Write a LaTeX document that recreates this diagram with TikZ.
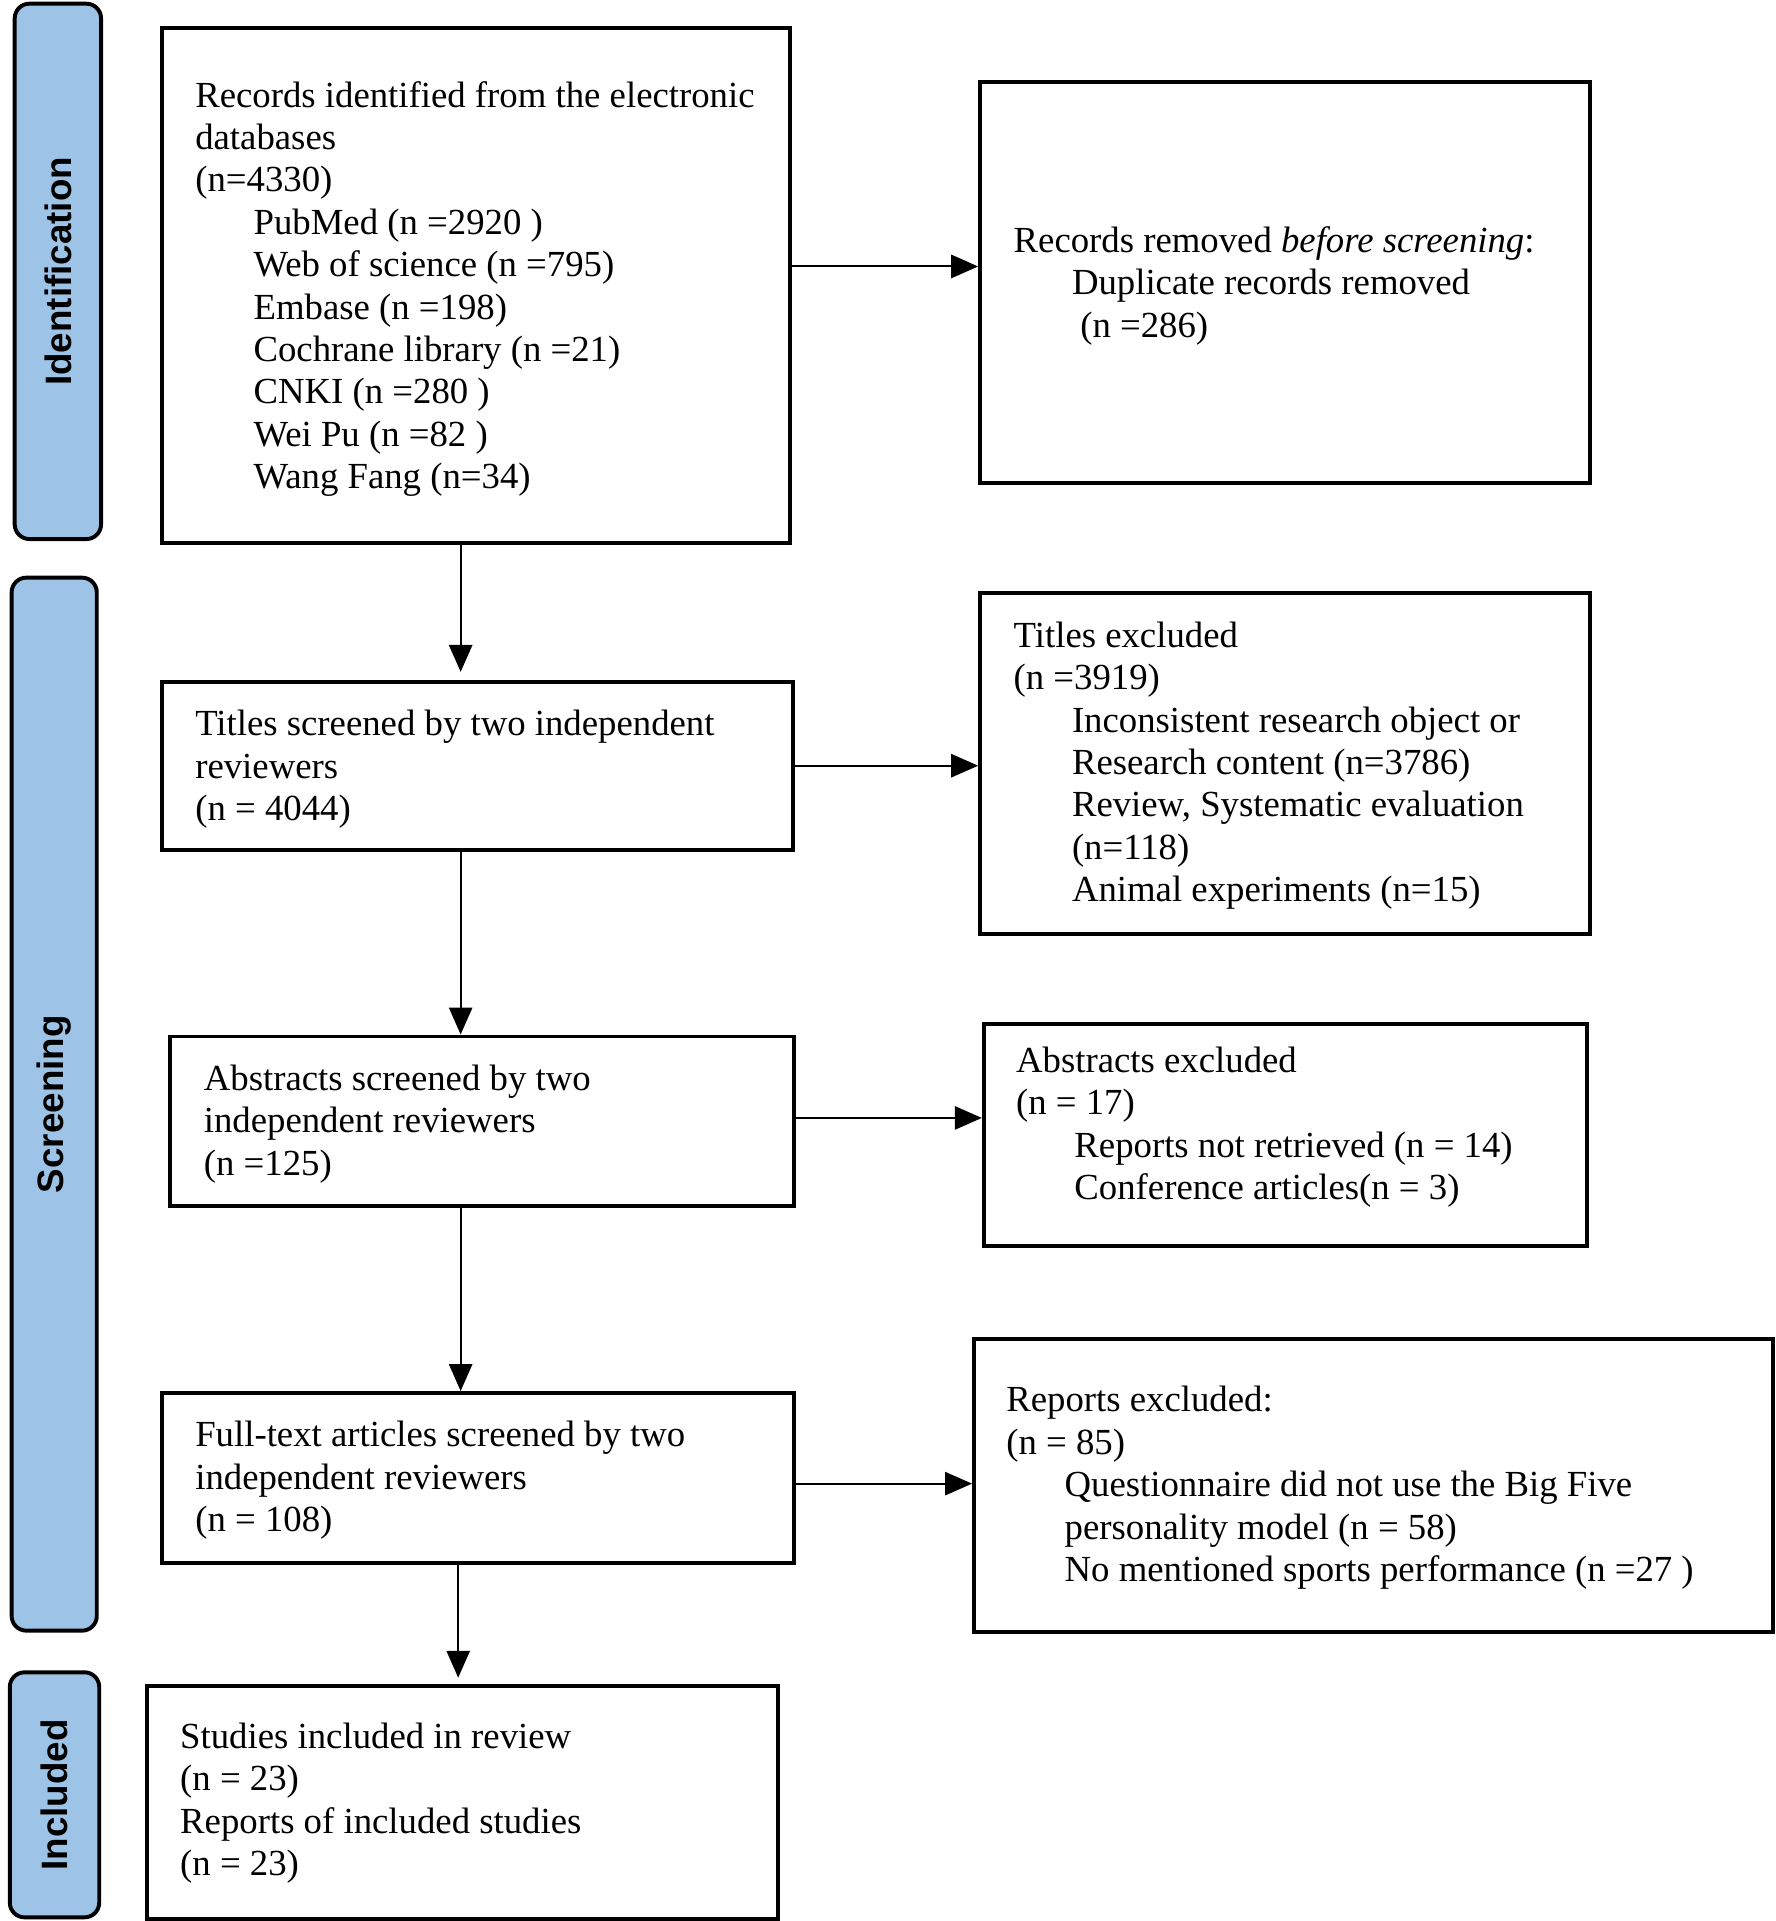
\documentclass[tikz,border=0pt]{standalone}
\usepackage{fontspec}
\setmainfont{Liberation Serif}
\newfontfamily\lanefont{Liberation Sans}
\usetikzlibrary{arrows.meta,fit}
\definecolor{lanefill}{HTML}{9DC3E6}
\newcommand{\ind}{\hspace*{23.8pt}}
\begin{document}
\begin{tikzpicture}[x=0.5pt,y=-0.5pt,
  box/.style={draw, line width=1.6pt, rectangle, inner sep=0pt},
  lane/.style={draw, line width=1.6pt, fill=lanefill, rounded corners=6pt, inner sep=0pt},
  lanelabel/.style={font=\lanefont\bfseries\fontsize{15pt}{18pt}\selectfont, rotate=90, inner sep=0pt},
  txt/.style={anchor=base west, inner sep=0pt, text width=330pt, align=flush left, font=\fontsize{15pt}{17.3pt}\selectfont},
  arr/.style={line width=0.8pt, -{Triangle[length=11pt,width=9.5pt]}},
]
\useasboundingbox (0,0) rectangle (1449,1568);

% lanes
\node[lane, fit={(12,3) (82.5,440)}] (LI) {};
\node[lane, fit={(9.5,471.5) (79,1331)}] (LS) {};
\node[lane, fit={(8,1365) (81,1565)}] (LN) {};
\node[lanelabel] (LIt) at (LI.center) {Identification};
\node[lanelabel] (LSt) at (LS.center) {Screening};
\node[lanelabel] (LNt) at (LN.center) {Included};

% boxes
\node[box, fit={(132,23) (645,443)}] (B1) {};
\node[box, fit={(800,67) (1298,394)}] (R1) {};
\node[box, fit={(132,557) (647,694)}] (B2) {};
\node[box, fit={(800,484) (1298,762)}] (R2) {};
\node[box, fit={(139,846) (648,984)}] (B3) {};
\node[box, fit={(803,836) (1295,1017)}] (R3) {};
\node[box, fit={(132,1137) (648,1276)}] (B4) {};
\node[box, fit={(795,1093) (1447,1332)}] (R4) {};
\node[box, fit={(120,1376) (635,1566)}] (B5) {};

% texts
\node[txt] (tB1) at (159,87.5) {Records identified from the electronic\\ databases\\ (n=4330)\\
 \ind PubMed (n =2920 )\\ \ind Web of science (n =795)\\ \ind Embase (n =198)\\
 \ind Cochrane library (n =21)\\ \ind CNKI (n =280 )\\ \ind Wei Pu (n =82 )\\ \ind Wang Fang (n=34)};
\node[txt] (tR1) at (827,206) {Records removed \textit{before screening}:\\ \ind Duplicate records removed\\ \hspace*{27.2pt}(n =286)};
\node[txt] (tB2) at (159,600.5) {Titles screened by two independent\\ reviewers\\ (n = 4044)};
\node[txt] (tR2) at (827,528.4) {Titles excluded\\ (n =3919)\\ \ind Inconsistent research object or\\
 \ind Research content (n=3786)\\ \ind Review, Systematic evaluation\\ \ind (n=118)\\ \ind Animal experiments (n=15)};
\node[txt] (tB3) at (166,890) {Abstracts screened by two\\ independent reviewers\\ (n =125)};
\node[txt] (tR3) at (829,875.3) {Abstracts excluded\\ (n = 17)\\ \ind Reports not retrieved (n = 14)\\ \ind Conference articles(n = 3)};
\node[txt] (tB4) at (159,1181) {Full-text articles screened by two\\ independent reviewers\\ (n = 108)};
\node[txt] (tR4) at (821,1152.4) {Reports excluded:\\ (n = 85)\\ \ind Questionnaire did not use the Big Five\\
 \ind personality model (n = 58)\\ \ind No mentioned sports performance (n =27 )};
\node[txt] (tB5) at (146.7,1427) {Studies included in review\\ (n = 23)\\ Reports of included studies\\ (n = 23)};

% vertical arrows
\coordinate (ax) at (376,0);
\coordinate (bx) at (374,0);
\draw[arr, shorten >=3.5pt] (B1.south -| ax) -- (B2.north -| ax);
\draw[arr] (B2.south -| ax) -- (B3.north -| ax);
\draw[arr] (B3.south -| ax) -- (B4.north -| ax);
\draw[arr, shorten >=2.5pt] (B4.south -| bx) -- (B5.north -| bx);

% horizontal arrows
\draw[arr] (B1.east |- 0,217.5) -- (R1.west |- 0,217.5);
\draw[arr] (B2.east |- 0,625) -- (R2.west |- 0,625);
\draw[arr] (B3.east |- 0,912.5) -- (R3.west |- 0,912.5);
\draw[arr] (B4.east |- 0,1211) -- (R4.west |- 0,1211);
\end{tikzpicture}
\end{document}
